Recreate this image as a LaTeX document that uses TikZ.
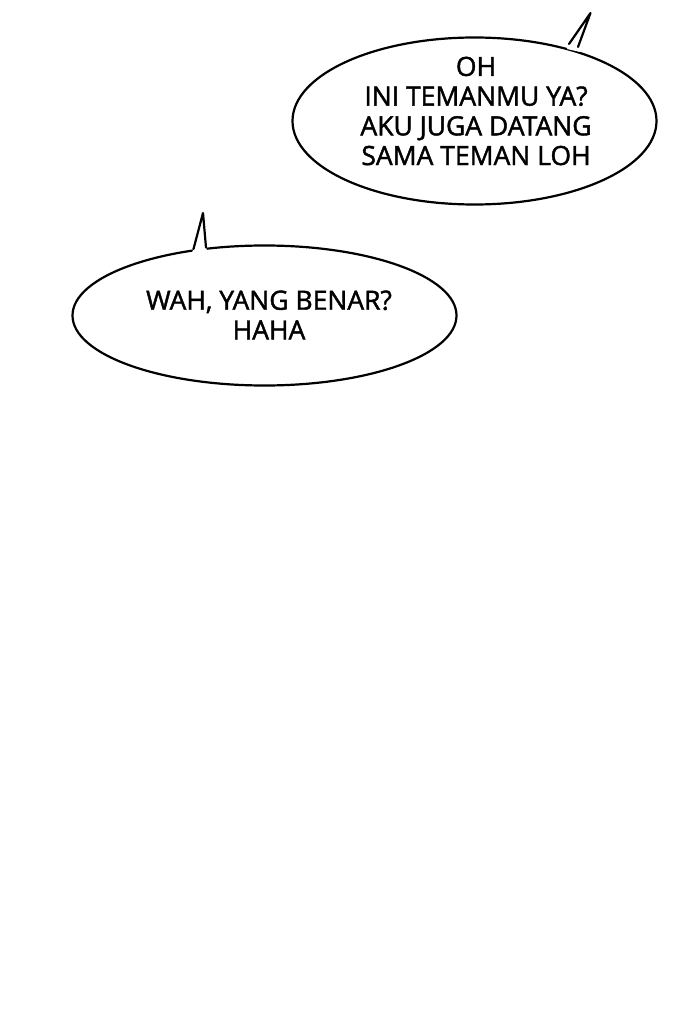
\documentclass[tikz,border=0pt]{standalone}
\usepackage{fontspec}
\newfontfamily\bubblefont{Open Sans}[BoldFont={Open Sans}, BoldFeatures={FakeBold=1.6}]
\usetikzlibrary{shapes.geometric}
\tikzset{
  bubble/.style={draw=black, line width=2.2pt, fill=white, ellipse, inner sep=0pt},
  tailfill/.style={fill=white, draw=none},
  tailline/.style={draw=black, line width=2.2pt, line join=round, line cap=round},
  speech/.style={font=\bubblefont\bfseries\fontsize{26.5}{29.7}\selectfont, align=center, inner sep=0pt, text=black},
}
\begin{document}
\begin{tikzpicture}[x=1pt,y=-1pt]
\useasboundingbox[fill=white] (0,0) rectangle (700,1032);
% bubble 1
\node[bubble, minimum width=364pt, minimum height=167pt] (b1) at (474.5,121) {};
\coordinate (t1a) at (569,44);
\coordinate (t1tip) at (590.5,13);
\coordinate (t1b) at (578,47);
\fill[tailfill] (567,49) -- (t1a) -- (t1tip) -- (t1b) -- (580,52) -- cycle;
\draw[tailline] (t1a) -- (t1tip) -- (t1b);
\node[speech] (s1) at (476,111) {OH\\INI TEMANMU YA?\\AKU JUGA DATANG\\SAMA TEMAN LOH};
% bubble 2
\node[bubble, minimum width=384pt, minimum height=140pt] (b2) at (264.5,315.5) {};
\coordinate (t2a) at (193.5,249);
\coordinate (t2tip) at (203,213);
\coordinate (t2b) at (206,247.5);
\fill[tailfill] (191,255) -- (t2a) -- (t2tip) -- (t2b) -- (208,253) -- cycle;
\draw[tailline] (t2a) -- (t2tip) -- (t2b);
\node[speech] (s2) at (269,315) {WAH, YANG BENAR?\\HAHA};
\end{tikzpicture}
\end{document}
